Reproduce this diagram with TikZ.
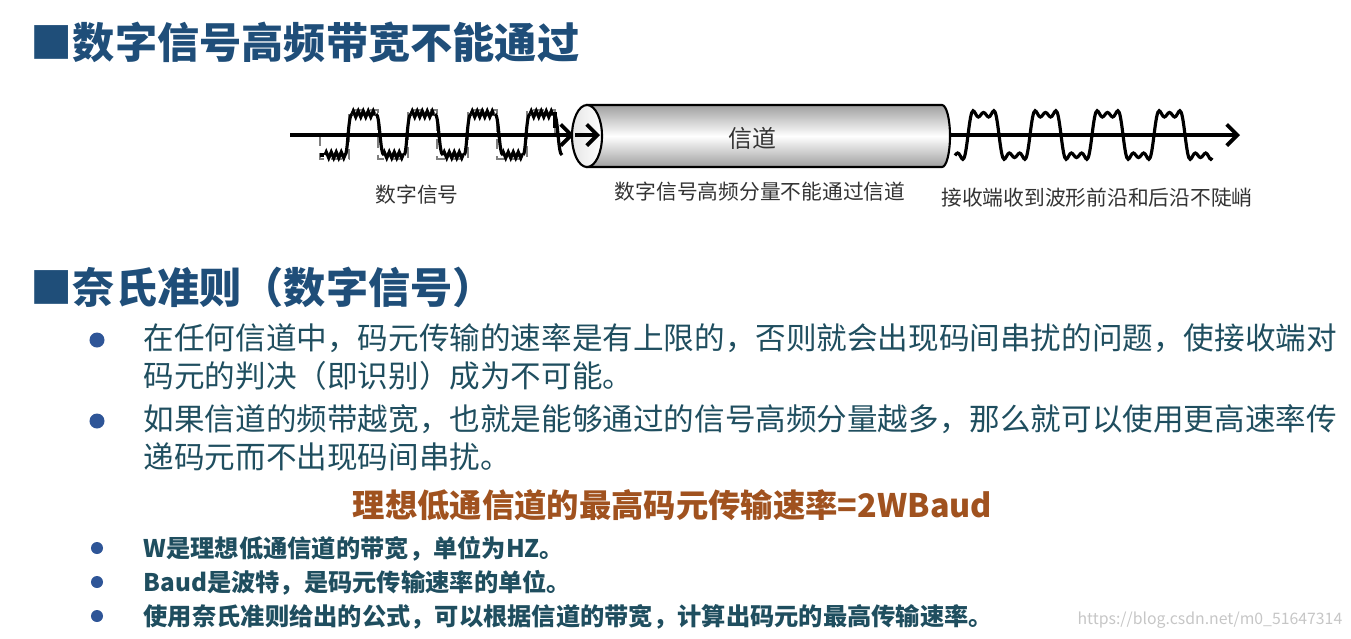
\documentclass[tikz,border=0pt]{standalone}
\usepackage{fontspec}
\setmainfont{Noto Sans CJK SC}
\usetikzlibrary{decorations.pathmorphing,arrows.meta}
\definecolor{ttl}{HTML}{1F4E79}
\definecolor{bdy}{HTML}{1F4E5F}
\definecolor{org}{HTML}{A0521F}
\definecolor{bul}{HTML}{2E5597}
\tikzset{
 ttltext/.style={anchor=west,inner sep=0,text=ttl,font=\bfseries\fontsize{12pt}{14pt}\selectfont},
 bodytext/.style={anchor=north west,inner sep=0,text=bdy,align=left,font=\fontsize{8.7pt}{10.8pt}\selectfont},
 smalltext/.style={anchor=west,inner sep=0,text=bdy,font=\bfseries\fontsize{6.9pt}{8pt}\selectfont},
 lbl/.style={inner sep=0,text=black!80,font=\fontsize{5.9pt}{7pt}\selectfont},
 bigdot/.style={circle,fill=bul,inner sep=0,minimum size=0.15cm},
 smdot/.style={circle,fill=bul,inner sep=0,minimum size=0.12cm},
 zz/.style={decorate,decoration={zigzag,segment length=0.05cm,amplitude=0.03cm}},
 axis/.style={line width=1.1pt,-{Straight Barb[length=3pt]}}
}
\begin{document}
\begin{tikzpicture}[x=0.01cm,y=-0.01cm]
\useasboundingbox (0,0) rectangle (1351,638);
% titles
\node[ttltext] (t1) at (30,42) {■数字信号高频带宽不能通过};
\node[ttltext] (t2) at (30,287) {■奈氏准则（数字信号）};
% input waveform
\draw[gray,densely dashed,line width=0.4pt] (320,135) -- (320,159) -- (349,159) -- (349,110) -- (378,110) -- (378,159) -- (408,159) -- (408,110) -- (437,110) -- (437,159) -- (468,159) -- (468,110) -- (497,110) -- (497,159) -- (527,159) -- (527,110) -- (555,110) -- (555,135);
\draw[line width=0.9pt] (320,155) -- (324,155);
\foreach \a/\b in {325/346,383/404,443/464,502/523} \draw[line width=0.9pt,zz] (\a,155) -- (\b,155);
\foreach \a/\b in {352/375,411/434,471/494,530/553} \draw[line width=0.9pt,zz] (\a,114) -- (\b,114);
\foreach \x in {349,408,468,527} {
 \draw[line width=0.9pt] (\x-4,155) .. controls (\x-1,155) and (\x-1,114) .. (\x+3,114);
 \draw[line width=0.9pt] (\x+27,114) .. controls (\x+31,114) and (\x+31,155) .. (\x+35,155);
}
\draw[line width=0.9pt] (553,114) -- (555,114) -- (555,128);
\coordinate (ina) at (290,135);
\coordinate (inb) at (574,135);
\draw[axis] (ina) -- (inb);
% cylinder
\shade[top color=gray!75,bottom color=gray!75,middle color=white,draw=black,line width=0.6pt]
 (587,105) -- (942,105) arc[start angle=-90,end angle=90,x radius=8,y radius=31] -- (587,167) -- cycle;
\shade[left color=gray!20,right color=white,draw=black,line width=0.6pt] (587,136) ellipse[x radius=15,y radius=31];
\draw[axis] (575,135) -- (600,135);
\node[lbl,font=\fontsize{6.8pt}{8pt}\selectfont] (ch) at (752,138) {信道};
% output
\coordinate (oa) at (950,135);
\coordinate (ob) at (1240,135);
\draw[axis] (oa) -- (ob);
\draw[line width=0.9pt,smooth,samples=200,domain=0:4.15] plot ({955+62*\x},{135-26*( sin(360*(\x-0.21)) + sin(3*360*(\x-0.21))/3 + sin(5*360*(\x-0.21))/5)});
% labels
\node[lbl] (l1) at (417,195) {数字信号};
\node[lbl] (l2) at (760,192) {数字信号高频分量不能通过信道};
\node[lbl] (l3) at (1097,198) {接收端收到波形前沿和后沿不陡峭};
% bullets
\node[bigdot] (b1) at (97,340) {};
\node[bodytext] (p1) at (143,323) {在任何信道中，码元传输的速率是有上限的，否则就会出现码间串扰的问题，使接收端对\\码元的判决（即识别）成为不可能。};
\node[bigdot] (b2) at (97,421) {};
\node[bodytext] (p2) at (143,404) {如果信道的频带越宽，也就是能够通过的信号高频分量越多，那么就可以使用更高速率传\\递码元而不出现码间串扰。};
\node[anchor=west,inner sep=0,text=org,font=\bfseries\fontsize{9.2pt}{11pt}\selectfont] (f) at (352,505) {理想低通信道的最高码元传输速率=2WBaud};
\node[smdot] (s1) at (97,548) {};
\node[smalltext] (q1) at (143,549) {W是理想低通信道的带宽，单位为HZ。};
\node[smdot] (s2) at (97,582) {};
\node[smalltext] (q2) at (143,583) {Baud是波特，是码元传输速率的单位。};
\node[smdot] (s3) at (97,616) {};
\node[smalltext] (q3) at (143,617) {使用奈氏准则给出的公式，可以根据信道的带宽，计算出码元的最高传输速率。};
\node[anchor=east,inner sep=0,text=gray!45,font=\fontsize{4.5pt}{5pt}\selectfont] (wm) at (1343,620) {https://blog.csdn.net/m0\_51647314};
\end{tikzpicture}
\end{document}
